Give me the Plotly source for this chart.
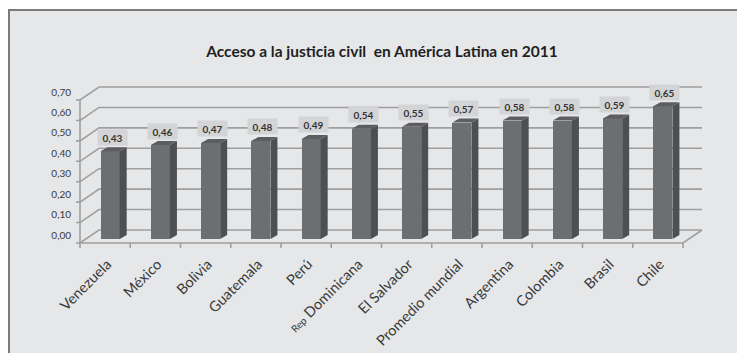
import plotly.graph_objects as go

# ---- data ----
categories = ["Venezuela", "México", "Bolivia", "Guatemala", "Perú",
              "<span style='font-size:10px'>Rep</span> Dominicana", "El Salvador",
              "Promedio mundial", "Argentina", "Colombia", "Brasil", "Chile"]
values = [0.43, 0.46, 0.47, 0.48, 0.49, 0.54, 0.55, 0.57, 0.58, 0.58, 0.59, 0.65]
y_ticks = [0.0, 0.1, 0.2, 0.3, 0.4, 0.5, 0.6, 0.7]
title_text = "Acceso a la justicia civil  en América Latina en 2011"

# ---- layout constants (page body has an 8px margin) ----
OFF = 8
FIG_W, FIG_H = 745 - OFF, 353 - OFF
ML, MT = 85 - OFF, 96 - OFF
PW, PH = 603, 143
MR, MB = FIG_W - ML - PW, FIG_H - MT - PH
YMAX = 0.7
N = len(categories)
BAR_W = 0.38
BAR_PX = BAR_W * PW / N
SIDE_DX, SIDE_DY = 7, 4
FRONT_DX, FRONT_DY = -5, -4
BACK_DX, BACK_DY = 14, 9

GRID = "#9f9f9f"
FRONT = "#6d6e70"
SIDE = "#4e4f51"
TOP = "#5c5d5f"
BG = "#e6e7e8"
TXT = "#3a3a3a"
FONT = "Lato"

fig = go.Figure()
fig.add_trace(go.Bar(x=list(range(N)), y=values, width=BAR_W,
                     marker=dict(color=FRONT, line=dict(width=0)),
                     hoverinfo="skip"))

shapes = []
# chart frame (top and left borders)
shapes.append(dict(type="path", xref="paper", yref="paper", xsizemode="pixel", ysizemode="pixel",
                   xanchor=0, yanchor=1, layer="below",
                   path=f"M {1-ML},{MT-2} L {FIG_W+10},{MT-2} L {FIG_W+10},{-FIG_H} L {1-ML},{-FIG_H} Z",
                   fillcolor=BG, line=dict(color="#7b7b7b", width=2)))

for v in y_ticks:
    shapes.append(dict(type="path", xref="paper", yref="paper", xsizemode="pixel", ysizemode="pixel",
                       xanchor=0, yanchor=v / YMAX, layer="below",
                       path=(f"M {FRONT_DX-4},{FRONT_DY} L {FRONT_DX},{FRONT_DY} "
                             f"L {BACK_DX},{BACK_DY} L {PW+BACK_DX},{BACK_DY}"),
                       line=dict(color=GRID, width=1.6)))
shapes.append(dict(type="path", xref="paper", yref="paper", xsizemode="pixel", ysizemode="pixel",
                   xanchor=0, yanchor=0, layer="below",
                   path=f"M {FRONT_DX},{FRONT_DY} L {FRONT_DX},{PH+FRONT_DY}",
                   line=dict(color=GRID, width=1.6)))
shapes.append(dict(type="path", xref="paper", yref="paper", xsizemode="pixel", ysizemode="pixel",
                   xanchor=0, yanchor=0, layer="below",
                   path=(f"M {FRONT_DX},{FRONT_DY} L {PW+FRONT_DX},{FRONT_DY} "
                         f"L {PW+BACK_DX},{BACK_DY}"),
                   line=dict(color=GRID, width=1.6)))
for k in range(N + 1):
    shapes.append(dict(type="path", xref="paper", yref="paper", xsizemode="pixel", ysizemode="pixel",
                       xanchor=k / N, yanchor=0, layer="below",
                       path=f"M {FRONT_DX},{FRONT_DY} L {FRONT_DX},{FRONT_DY-5}",
                       line=dict(color=GRID, width=1.6)))

half = BAR_PX / 2
for i, v in enumerate(values):
    h = v / YMAX * PH
    shapes.append(dict(type="path", xref="x", yref="y", xsizemode="pixel", ysizemode="pixel",
                       xanchor=i, yanchor=v, layer="above",
                       path=(f"M {half},0 L {half+SIDE_DX},{SIDE_DY} L {half+SIDE_DX},{SIDE_DY-h} "
                             f"L {half},{-h} Z"),
                       fillcolor=SIDE, line=dict(width=0)))
    shapes.append(dict(type="path", xref="x", yref="y", xsizemode="pixel", ysizemode="pixel",
                       xanchor=i, yanchor=v, layer="above",
                       path=(f"M {-half},0 L {half},0 L {half+SIDE_DX},{SIDE_DY} "
                             f"L {-half+SIDE_DX},{SIDE_DY} Z"),
                       fillcolor=TOP, line=dict(width=0)))

annotations = []
for i, v in enumerate(values):
    annotations.append(dict(x=i, y=v, xref="x", yref="y", text=f"{v:.2f}".replace(".", ","),
                            showarrow=False, yshift=14, xshift=2, width=29, height=15,
                            bgcolor="#d3d4d5", borderpad=0,
                            font=dict(family=FONT, size=10, color="#333333", weight="bold")))

fig.update_layout(
    width=FIG_W, height=FIG_H,
    margin=dict(l=ML, r=MR, t=MT, b=MB, pad=0),
    paper_bgcolor="white", plot_bgcolor="rgba(0,0,0,0)",
    template="none", showlegend=False, separators=",.",
    title=dict(text=title_text, x=(382 - OFF) / FIG_W, xref="container",
               y=1 - (52 - OFF) / FIG_H, yref="container",
               xanchor="center", yanchor="middle",
               font=dict(family=FONT, size=15.5, color="#1f1f1f", weight="bold")),
    xaxis=dict(range=[-0.5, N - 0.5], tickmode="array", tickvals=list(range(N)), ticktext=categories,
               tickangle=-45, showgrid=False, zeroline=False, showline=False, ticks="",
               automargin=False, ticklabelstandoff=13, ticklabelshift=-3,
               tickfont=dict(family=FONT, size=14.5, color=TXT)),
    yaxis=dict(range=[0, YMAX], tickmode="array", tickvals=y_ticks, tickformat=".2f",
               showgrid=False, zeroline=False, showline=False, ticks="", automargin=False,
               ticklabelstandoff=13, ticklabelshift=-4,
               tickfont=dict(family=FONT, size=10, color=TXT)),
    shapes=shapes, annotations=annotations, bargap=0,
)

fig.write_html("out.html")
